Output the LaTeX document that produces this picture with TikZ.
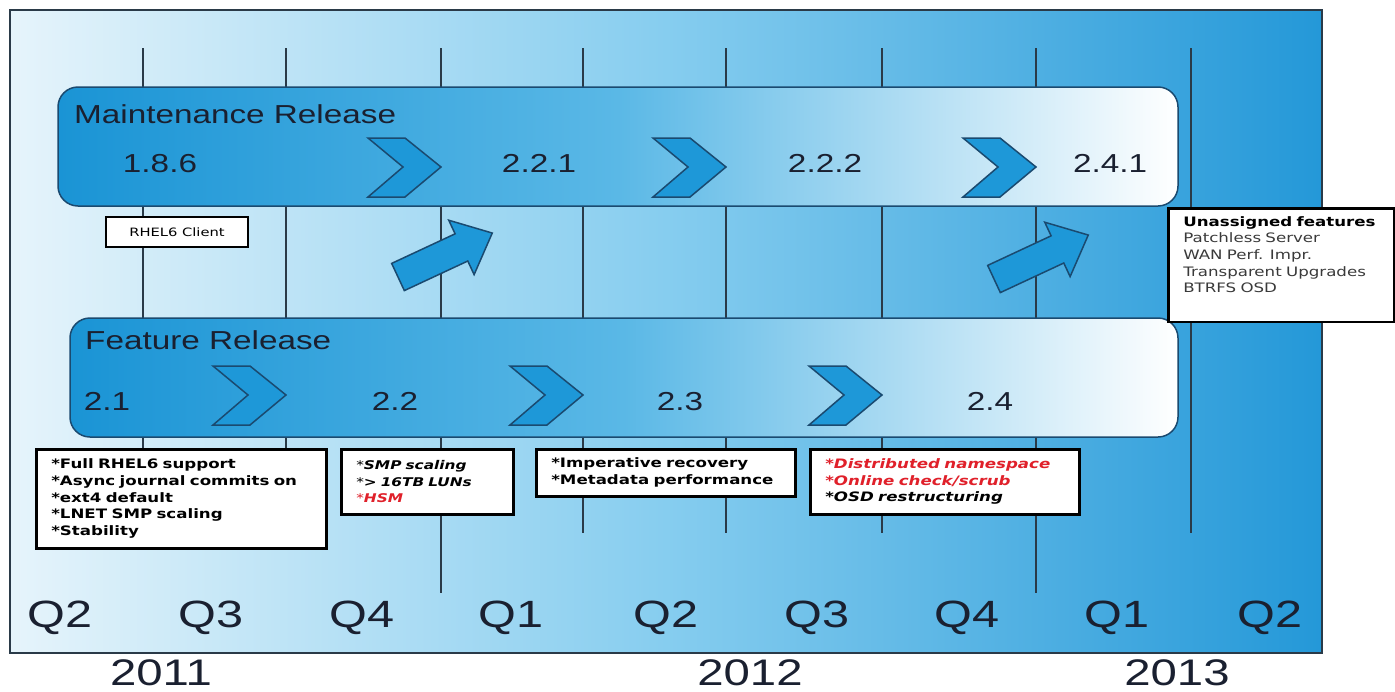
\documentclass[tikz,border=0pt]{standalone}
\usepackage{fontspec}
\setmainfont{Liberation Sans}[FakeStretch=1.28]
\newfontfamily\boxfont{DejaVu Sans}[FakeStretch=1.28]
\definecolor{paleblue}{HTML}{E6F4FB}
\definecolor{midblue}{HTML}{86CDEF}
\definecolor{deepblue}{HTML}{2498D8}
\definecolor{bandblue}{HTML}{1A94D5}
\definecolor{midband}{HTML}{5AB8E6}
\definecolor{chevblue}{HTML}{1E98D8}
\definecolor{edgeblue}{HTML}{1A4A70}
\definecolor{gridgrey}{HTML}{2A3A48}
\definecolor{inkblack}{HTML}{1A2030}
\definecolor{hotred}{HTML}{E0202A}
\definecolor{softgrey}{HTML}{3A3A3A}

\begin{document}
\begin{tikzpicture}[x=1pt, y=-1pt,
	band/.style={draw=edgeblue, line width=1.5pt, rounded corners=20pt, left color=bandblue, right color=white, middle color=midband},
	chevfill/.style={fill=chevblue, draw=edgeblue, line width=1.5pt},
	gridline/.style={draw=gridgrey, line width=1.5pt},
	bandtitle/.style={font=\fontsize{26}{30}\selectfont, text=inkblack, inner sep=0pt, anchor=base west},
	version/.style={font=\fontsize{26}{30}\selectfont, text=inkblack, inner sep=0pt, anchor=base},
	quarter/.style={font=\fontsize{38}{44}\selectfont, text=inkblack, inner sep=0pt, anchor=base},
	year/.style={font=\fontsize{37}{42}\selectfont, text=inkblack, inner sep=0pt, anchor=base},
	infobox/.style={draw=black, line width=2.5pt, fill=white, anchor=north west, inner xsep=15pt, inner ysep=0pt, align=left, font=\boxfont\fontsize{13}{16.7}\selectfont\bfseries},
	chevron/.pic={\path[chevfill] (-73,-29) -- (-36,-29) -- (0,0) -- (-36,30) -- (-73,30) -- (-38,0) -- cycle;},
	blockarrow/.pic={\path[chevfill] (0,-15) -- (70,-15) -- (70,-30) -- (104,0) -- (70,30) -- (70,15) -- (0,15) -- cycle;}
]
	\useasboundingbox (0,0) rectangle (1395,691);
	\shade[left color=paleblue, right color=deepblue, middle color=midblue] (10,10) rectangle (1322,653);
	\draw[gridgrey, line width=1.5pt] (10,10) rectangle (1322,653);

	\foreach \qx in {143,286,583,726,882,1191}
		\draw[gridline] (\qx,48) -- (\qx,533);
	\foreach \qx in {441,1036}
		\draw[gridline] (\qx,48) -- (\qx,593);

	\path[band] (58,87) rectangle (1178,206);
	\path[band] (70,318) rectangle (1178,437);

	\foreach \tip in {(441,167),(726,167),(1036,167),(286,395),(583,395),(882,395)}
		\pic at \tip {chevron};

	\pic[rotate=25] at (398,277) {blockarrow};
	\pic[rotate=25] at (994,279) {blockarrow};

	\node[bandtitle] (maint) at (74,123) {Maintenance Release};
	\node[bandtitle] (feat) at (85,349) {Feature Release};

	\node[version] (v186) at (160,172) {1.8.6};
	\node[version] (v221) at (539,172) {2.2.1};
	\node[version] (v222) at (825,172) {2.2.2};
	\node[version] (v241) at (1110,172) {2.4.1};
	\node[version] (v21) at (107,410) {2.1};
	\node[version] (v22) at (395,410) {2.2};
	\node[version] (v23) at (680,410) {2.3};
	\node[version] (v24) at (990,410) {2.4};

	\node[draw=black, line width=2.5pt, fill=white, minimum width=142, minimum height=30, font=\boxfont\fontsize{11.5}{14}\selectfont] (rhel) at (177,232) {RHEL6 Client};

	\node[infobox, text width=260, minimum height=99] (f21) at (35,448) {{*}Full RHEL6 support\\{*}Async journal commits on\\{*}ext4 default\\{*}LNET SMP scaling\\{*}Stability};
	\node[infobox, text width=142, minimum height=65, font=\boxfont\fontsize{12}{16.7}\selectfont\bfseries\itshape] (f22) at (340,448) {{\mdseries*}SMP scaling\\{\mdseries*}> 16TB LUNs\\\textcolor{hotred}{{\mdseries*}HSM}};
	\node[infobox, text width=229, minimum height=47] (f23) at (535,448) {{*}Imperative recovery\\{*}Metadata performance};
	\node[infobox, text width=239, minimum height=65, font=\boxfont\fontsize{13}{16.7}\selectfont\bfseries\itshape] (f24) at (809,448) {\textcolor{hotred}{*Distributed namespace}\\\textcolor{hotred}{*Online check/scrub}\\{*}OSD restructuring};
	\node[infobox, text width=196, inner ysep=8pt, text depth=88, font=\boxfont\fontsize{13}{16.7}\selectfont, text=softgrey] (unassigned) at (1167,207) {\textcolor{black}{\bfseries Unassigned features}\\Patchless Server\\WAN Perf. Impr.\\Transparent Upgrades\\BTRFS OSD};

	\foreach \qx/\qname [count=\i] in {60/Q2,211/Q3,362/Q4,511/Q1,666/Q2,817/Q3,967/Q4,1117/Q1,1270/Q2}
		\node[quarter] (q\i) at (\qx,627) {\qname};

	\node[year] (y2011) at (161,685) {2011};
	\node[year] (y2012) at (750,685) {2012};
	\node[year] (y2013) at (1177,685) {2013};
\end{tikzpicture}
\end{document}
